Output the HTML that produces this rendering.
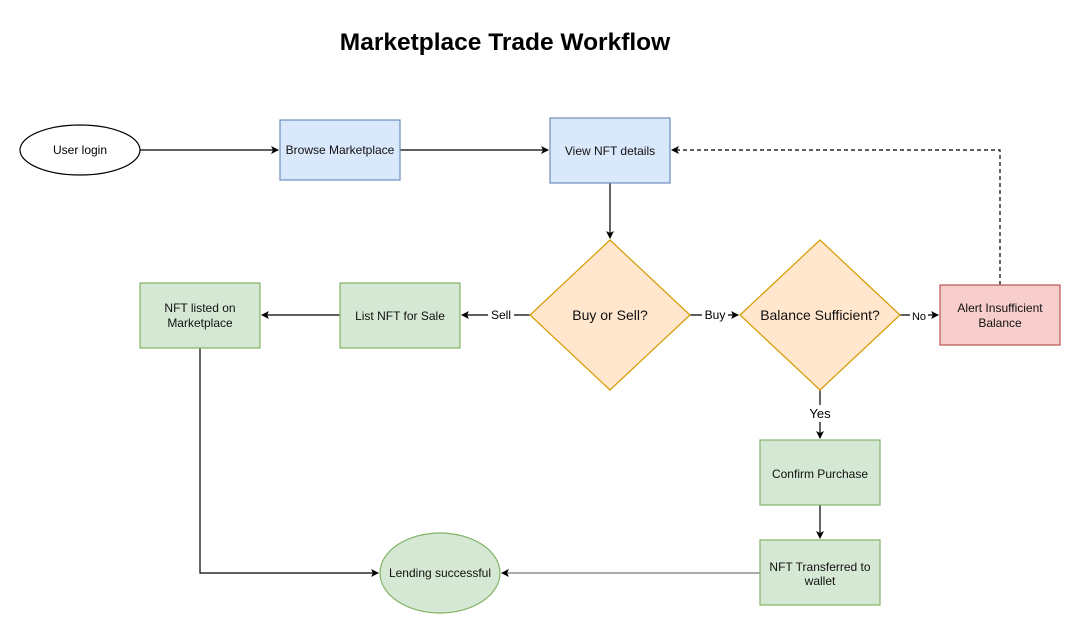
<!DOCTYPE html>
<html><head><meta charset="utf-8"><style>
html,body{margin:0;padding:0;background:#fff;}
svg{display:block;font-family:"Liberation Sans",Helvetica,Arial,sans-serif;}
</style></head><body>
<svg width="1081" height="633" viewBox="0 0 1081 633" xmlns="http://www.w3.org/2000/svg">
<defs>
<marker id="a" markerWidth="10" markerHeight="10" refX="8" refY="5" orient="auto" markerUnits="userSpaceOnUse">
<path d="M1,1 L9,5 L1,9 L3,5 Z" fill="#000"/></marker>
</defs>
<rect width="1081" height="633" fill="#fff"/>
<text x="505" y="50" text-anchor="middle" font-size="24.5" font-weight="bold">Marketplace Trade Workflow</text>

<g stroke="#000" stroke-width="1.2" fill="none">
<line x1="140" y1="150" x2="278" y2="150" marker-end="url(#a)"/>
<line x1="400" y1="150" x2="548" y2="150" marker-end="url(#a)"/>
<line x1="610" y1="183" x2="610" y2="238" marker-end="url(#a)"/>
<line x1="530" y1="315" x2="462" y2="315" marker-end="url(#a)"/>
<line x1="340" y1="315" x2="262" y2="315" marker-end="url(#a)"/>
<line x1="690" y1="315" x2="738" y2="315" marker-end="url(#a)"/>
<line x1="900" y1="315" x2="938" y2="315" marker-end="url(#a)"/>
<line x1="820" y1="390" x2="820" y2="438" marker-end="url(#a)"/>
<line x1="820" y1="505" x2="820" y2="538" marker-end="url(#a)"/>
<polyline points="200,348 200,573 378,573" marker-end="url(#a)"/>
<line x1="760" y1="573" x2="502" y2="573" stroke="#777" marker-end="url(#a)"/>
<polyline points="1000,285 1000,150 672,150" stroke-dasharray="4,3" marker-end="url(#a)"/>
</g>

<rect x="488" y="307" width="26" height="16" fill="#fff"/>
<text x="501" y="319" text-anchor="middle" font-size="12">Sell</text>
<rect x="702" y="307" width="26" height="16" fill="#fff"/>
<text x="715" y="319" text-anchor="middle" font-size="12">Buy</text>
<rect x="910" y="308" width="18" height="15" fill="#fff"/>
<text x="919" y="320" text-anchor="middle" font-size="11">No</text>
<rect x="806" y="405" width="28" height="17" fill="#fff"/>
<text x="820" y="418" text-anchor="middle" font-size="13">Yes</text>

<ellipse cx="80" cy="150" rx="60" ry="25" fill="#fff" stroke="#000" stroke-width="1.2"/>
<text x="80" y="154" text-anchor="middle" font-size="12">User login</text>

<g stroke-width="1.2">
<rect x="280" y="120" width="120" height="60" fill="#dae8fc" stroke="#6c8ebf"/>
<rect x="550" y="118" width="120" height="65" fill="#dae8fc" stroke="#6c8ebf"/>
<polygon points="610,240 690,315 610,390 530,315" fill="#ffe6cc" stroke="#d79b00"/>
<polygon points="820,240 900,315 820,390 740,315" fill="#ffe6cc" stroke="#d79b00"/>
<rect x="940" y="285" width="120" height="60" fill="#f8cecc" stroke="#b85450"/>
<rect x="340" y="283" width="120" height="65" fill="#d5e8d4" stroke="#82b366"/>
<rect x="140" y="283" width="120" height="65" fill="#d5e8d4" stroke="#82b366"/>
<rect x="760" y="440" width="120" height="65" fill="#d5e8d4" stroke="#82b366"/>
<rect x="760" y="540" width="120" height="65" fill="#d5e8d4" stroke="#82b366"/>
<ellipse cx="440" cy="573" rx="60" ry="40" fill="#d5e8d4" stroke="#82b366"/>
</g>

<g font-size="12" text-anchor="middle" fill="#111">
<text x="340" y="154">Browse Marketplace</text>
<text x="610" y="155">View NFT details</text>
<text x="610" y="320" font-size="14">Buy or Sell?</text>
<text x="820" y="320" font-size="14">Balance Sufficient?</text>
<text x="1000" y="312">Alert Insufficient</text>
<text x="1000" y="327">Balance</text>
<text x="400" y="320">List NFT for Sale</text>
<text x="200" y="312">NFT listed on</text>
<text x="200" y="327">Marketplace</text>
<text x="820" y="478">Confirm Purchase</text>
<text x="820" y="571">NFT Transferred to</text>
<text x="820" y="585">wallet</text>
<text x="440" y="577">Lending successful</text>
</g>
</svg>
</body></html>
